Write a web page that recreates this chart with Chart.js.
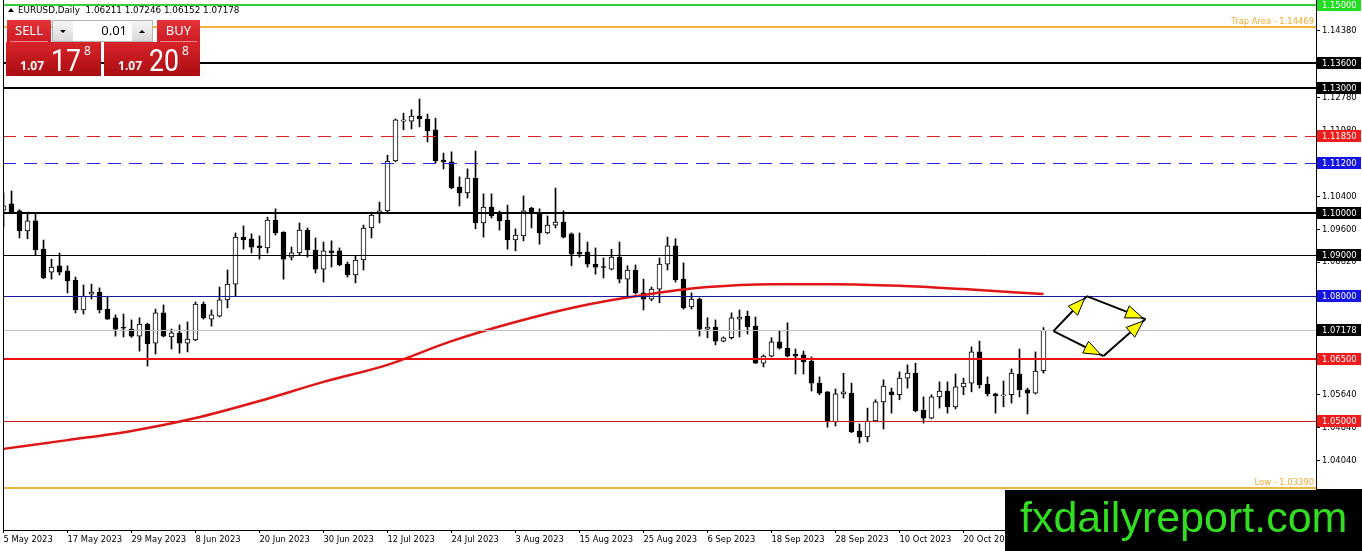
<!DOCTYPE html>
<html>
<head>
<meta charset="utf-8">
<title>EURUSD Daily</title>
<script src="https://cdn.jsdelivr.net/npm/chart.js@4.4.1/dist/chart.umd.min.js"></script>
<style>
  html, body { margin: 0; padding: 0; background: #ffffff; }
  #wrap { width: 1362px; height: 551px; }
  canvas { display: block; }
</style>
</head>
<body>
<div id="wrap"><canvas id="chart" width="1362" height="551"></canvas></div>
<script>
// bar index of each date label on the time axis (one label every 8 sessions)
const tickBars = [0, 8, 16, 24, 32, 40, 48, 56, 64, 72, 80, 88, 96, 104, 112, 120, 128];
const dateLabels = [
  "5 May 2023", "17 May 2023", "29 May 2023", "8 Jun 2023", "20 Jun 2023", "30 Jun 2023",
  "12 Jul 2023", "24 Jul 2023", "3 Aug 2023", "15 Aug 2023", "25 Aug 2023", "6 Sep 2023",
  "18 Sep 2023", "28 Sep 2023", "10 Oct 2023", "20 Oct 2023", "1 Nov 2023"
];

// daily candles, 5 May 2023 .. 3 Nov 2023
const opens = [
  1.1007, 1.1022, 1.1005, 1.0957, 1.0981, 1.0913, 1.0858, 1.0873, 1.0861, 1.0839,
  1.0767, 1.0805, 1.0810, 1.0769, 1.0748, 1.0724, 1.0721, 1.0704, 1.0733, 1.0687,
  1.0760, 1.0702, 1.0712, 1.0687, 1.0695, 1.0781, 1.0745, 1.0752, 1.0791, 1.0829,
  1.0942, 1.0938, 1.0921, 1.0916, 1.0983, 1.0954, 1.0894, 1.0904, 1.0959, 1.0911,
  1.0865, 1.0909, 1.0909, 1.0877, 1.0851, 1.0887, 1.0964, 1.1000, 1.1005, 1.1125,
  1.1221, 1.1221, 1.1233, 1.1226, 1.1200, 1.1127, 1.1123, 1.1062, 1.1048, 1.1084,
  1.0976, 1.1014, 1.1000, 1.0983, 1.0935, 1.0945, 1.1012, 1.1000, 1.0952, 1.0971,
  1.0978, 1.0950, 1.0906, 1.0906, 1.0877, 1.0870, 1.0865, 1.0894, 1.0841, 1.0863,
  1.0808, 1.0793, 1.0817, 1.0877, 1.0921, 1.0841, 1.0774, 1.0793, 1.0721, 1.0726,
  1.0692, 1.0700, 1.0745, 1.0752, 1.0728, 1.0639, 1.0656, 1.0690, 1.0675, 1.0661,
  1.0659, 1.0644, 1.0591, 1.0570, 1.0498, 1.0565, 1.0567, 1.0476, 1.0462, 1.0500,
  1.0546, 1.0570, 1.0563, 1.0603, 1.0615, 1.0526, 1.0507, 1.0558, 1.0572, 1.0534,
  1.0582, 1.0591, 1.0666, 1.0589, 1.0565, 1.0560, 1.0563, 1.0613, 1.0575, 1.0567,
  1.06211
];
const highs = [
  1.1048, 1.1053, 1.1008, 1.1002, 1.1000, 1.0935, 1.0889, 1.0904, 1.0873, 1.0846,
  1.0827, 1.0829, 1.0820, 1.0800, 1.0755, 1.0757, 1.0743, 1.0748, 1.0735, 1.0769,
  1.0779, 1.0721, 1.0731, 1.0738, 1.0786, 1.0786, 1.0767, 1.0822, 1.0863, 1.0952,
  1.0969, 1.0950, 1.0945, 1.0990, 1.1010, 1.0955, 1.0918, 1.0976, 1.0964, 1.0940,
  1.0930, 1.0933, 1.0916, 1.0882, 1.0897, 1.0971, 1.1002, 1.1026, 1.1139, 1.1226,
  1.1240, 1.1248, 1.1274, 1.1238, 1.1228, 1.1144, 1.1147, 1.1087, 1.1106, 1.1149,
  1.1046, 1.1046, 1.1005, 1.1019, 1.0962, 1.1041, 1.1014, 1.1010, 1.0993, 1.1060,
  1.1005, 1.0952, 1.0952, 1.0930, 1.0916, 1.0892, 1.0913, 1.0930, 1.0873, 1.0875,
  1.0841, 1.0822, 1.0892, 1.0942, 1.0938, 1.0880, 1.0808, 1.0796, 1.0748, 1.0743,
  1.0702, 1.0760, 1.0767, 1.0764, 1.0750, 1.0659, 1.0700, 1.0716, 1.0736, 1.0673,
  1.0668, 1.0654, 1.0606, 1.0571, 1.0577, 1.0615, 1.0591, 1.0493, 1.0531, 1.0551,
  1.0599, 1.0579, 1.0618, 1.0635, 1.0639, 1.0558, 1.0563, 1.0594, 1.0594, 1.0613,
  1.0603, 1.0678, 1.0692, 1.0606, 1.0567, 1.0596, 1.0625, 1.0673, 1.0579, 1.0666,
  1.07246
];
const lows = [
  1.0966, 1.0998, 1.0940, 1.0938, 1.0899, 1.0842, 1.0841, 1.0851, 1.0808, 1.0760,
  1.0757, 1.0793, 1.0760, 1.0744, 1.0704, 1.0702, 1.0701, 1.0668, 1.0632, 1.0661,
  1.0702, 1.0673, 1.0663, 1.0666, 1.0693, 1.0745, 1.0728, 1.0750, 1.0772, 1.0800,
  1.0913, 1.0904, 1.0889, 1.0904, 1.0947, 1.0841, 1.0887, 1.0899, 1.0894, 1.0856,
  1.0834, 1.0870, 1.0873, 1.0846, 1.0832, 1.0863, 1.0940, 1.0976, 1.1000, 1.1123,
  1.1200, 1.1202, 1.1207, 1.1171, 1.1120, 1.1106, 1.1058, 1.1017, 1.1036, 1.0962,
  1.0942, 1.0988, 1.0959, 1.0913, 1.0909, 1.0933, 1.0964, 1.0925, 1.0950, 1.0964,
  1.0940, 1.0873, 1.0894, 1.0870, 1.0853, 1.0844, 1.0863, 1.0832, 1.0798, 1.0805,
  1.0767, 1.0789, 1.0784, 1.0863, 1.0834, 1.0769, 1.0769, 1.0704, 1.0700, 1.0683,
  1.0690, 1.0697, 1.0702, 1.0709, 1.0638, 1.0630, 1.0654, 1.0673, 1.0654, 1.0613,
  1.0613, 1.0572, 1.0563, 1.0485, 1.0488, 1.0555, 1.0472, 1.0447, 1.0450, 1.0498,
  1.0481, 1.0519, 1.0551, 1.0579, 1.0522, 1.0495, 1.0505, 1.0531, 1.0519, 1.0529,
  1.0563, 1.0570, 1.0579, 1.0560, 1.0519, 1.0534, 1.0543, 1.0558, 1.0517, 1.0565,
  1.06152
];
const closes = [
  1.1017, 1.1000, 1.0957, 1.0981, 1.0911, 1.0844, 1.0870, 1.0858, 1.0837, 1.0767,
  1.0800, 1.0810, 1.0767, 1.0745, 1.0721, 1.0723, 1.0704, 1.0733, 1.0685, 1.0760,
  1.0704, 1.0712, 1.0687, 1.0697, 1.0781, 1.0748, 1.0755, 1.0791, 1.0829, 1.0942,
  1.0935, 1.0918, 1.0916, 1.0983, 1.0952, 1.0889, 1.0904, 1.0959, 1.0911, 1.0865,
  1.0909, 1.0904, 1.0875, 1.0851, 1.0887, 1.0964, 1.0995, 1.1005, 1.1125, 1.1224,
  1.1224, 1.1233, 1.1226, 1.1197, 1.1125, 1.1123, 1.1060, 1.1048, 1.1084, 1.0976,
  1.1014, 1.0993, 1.0981, 1.0935, 1.0947, 1.1005, 1.1000, 1.0952, 1.0971, 1.0978,
  1.0942, 1.0901, 1.0901, 1.0877, 1.0870, 1.0869, 1.0894, 1.0841, 1.0863, 1.0808,
  1.0793, 1.0817, 1.0877, 1.0921, 1.0839, 1.0772, 1.0793, 1.0721, 1.0726, 1.0692,
  1.0700, 1.0748, 1.0750, 1.0726, 1.0639, 1.0656, 1.0690, 1.0675, 1.0656, 1.0656,
  1.0642, 1.0591, 1.0567, 1.0498, 1.0565, 1.0570, 1.0474, 1.0462, 1.0500, 1.0546,
  1.0584, 1.0563, 1.0603, 1.0615, 1.0524, 1.0507, 1.0558, 1.0572, 1.0534, 1.0582,
  1.0591, 1.0666, 1.0587, 1.0565, 1.0560, 1.0563, 1.0615, 1.0575, 1.0567, 1.0620,
  1.07178
];

// moving average
const maBars = [0, 8, 16, 24, 32, 40, 48, 56, 64, 72, 80, 88, 96, 104, 112, 120, 130];
const maValues = [
  1.0433, 1.0454, 1.0476, 1.0507, 1.0548, 1.0594, 1.0635, 1.0692, 1.0738,
  1.0776, 1.0803, 1.0822, 1.0829, 1.0829, 1.0825, 1.0817, 1.0805
];

const yTickValues = [
  1.1438, 1.1358, 1.1278, 1.1198, 1.1118, 1.1040, 1.0960, 1.0882,
  1.0802, 1.0722, 1.0642, 1.0564, 1.0484, 1.0404, 1.0324
];

// horizontal levels drawn on the chart
const levelPrices = [1.15, 1.14469, 1.136, 1.13, 1.1185, 1.112, 1.10, 1.09, 1.08, 1.07178, 1.065, 1.05, 1.0339];
const levelNames = ["", "Trap Area - 1.14469", "", "", "", "", "", "", "", "", "", "", "Low - 1.03390"];

// arrow sketch to the right of the last candle: [bar, price]
const arrowPoints = [[131.25, 1.0716], [135.4, 1.0800], [142.75, 1.0745], [137.5, 1.0656]];
const arrowLinks = [[0, 1], [1, 2], [0, 3], [3, 2]];

const headerText = "EURUSD,Daily  1.06211 1.07246 1.06152 1.07178";
const lotSize = "0.01";
const bidParts = ["1.07", "17", "8"];
const askParts = ["1.07", "20", "8"];
const logoText = "fxdailyreport.com";

// ---- styles (kept apart from the values above) ----
const levelStyles = [
  { color: "#38cc38", width: 2, box: "#22dd22" },
  { color: "#f0b43c", width: 2, text: "#f0ac30" },
  { color: "#000000", width: 2, box: "#000000" },
  { color: "#000000", width: 2, box: "#000000" },
  { color: "#dd2020", width: 1, dash: [13, 8], box: "#ee1c1c" },
  { color: "#2626f0", width: 1, dash: [13, 8], box: "#1414e6" },
  { color: "#000000", width: 2, box: "#000000" },
  { color: "#000000", width: 1, box: "#000000" },
  { color: "#1a1aa0", width: 1, box: "#1414e6" },
  { color: "#c0c0c0", width: 1, box: "#000000" },
  { color: "#ee1111", width: 2, box: "#ee1c1c" },
  { color: "#c81e1e", width: 1, box: "#ee1c1c" },
  { color: "#f0b43c", width: 2, text: "#f0ac30" }
];

const AXIS_FONT = "DejaVu Sans";
const AXIS_SIZE = 8.4;
const PX_PER_UNIT = 4160;
const PLOT_TOP_PRICE = 1.1512;
const PLOT_HEIGHT = 530;
const BAR_SPACING = 8;
const PLOT_LEFT = 3;
const PLOT_RIGHT = 1316;

const xMin = -0.5 / BAR_SPACING;
const xMax = xMin + (PLOT_RIGHT - PLOT_LEFT) / BAR_SPACING;
const yMax = PLOT_TOP_PRICE;
const yMin = PLOT_TOP_PRICE - PLOT_HEIGHT / PX_PER_UNIT;

const bodies = opens.map((open, i) => ({ x: i, y: [open, closes[i]] }));
const wicks = lows.map((low, i) => ({ x: i, y: [low, highs[i]] }));
const bodyColors = opens.map((open, i) => (closes[i] > open ? "#ffffff" : "#000000"));
const maPoints = maBars.map((bar, i) => ({ x: bar, y: maValues[i] }));

function drawArrow(ctx, x1, y1, x2, y2) {
  const angle = Math.atan2(y2 - y1, x2 - x1);
  const tipX = x2 - 3 * Math.cos(angle);
  const tipY = y2 - 3 * Math.sin(angle);
  ctx.strokeStyle = "#000000";
  ctx.lineWidth = 2;
  ctx.beginPath();
  ctx.moveTo(x1, y1);
  ctx.lineTo(x2, y2);
  ctx.stroke();

  const baseX = tipX - 17 * Math.cos(angle);
  const baseY = tipY - 17 * Math.sin(angle);
  const half = 6.5;
  ctx.beginPath();
  ctx.moveTo(tipX, tipY);
  ctx.lineTo(baseX + half * Math.sin(angle), baseY - half * Math.cos(angle));
  ctx.lineTo(baseX - half * Math.sin(angle), baseY + half * Math.cos(angle));
  ctx.closePath();
  ctx.fillStyle = "#ffff00";
  ctx.fill();
  ctx.lineWidth = 1;
  ctx.stroke();
}

function verticalGradient(ctx, y, h, top, bottom) {
  const gradient = ctx.createLinearGradient(0, y, 0, y + h);
  gradient.addColorStop(0, top);
  gradient.addColorStop(1, bottom);
  return gradient;
}

function drawRedButton(ctx, x, y, w, h, label) {
  ctx.fillStyle = verticalGradient(ctx, y, h, "#e4343a", "#cc1b22");
  ctx.fillRect(x, y, w, h);
  ctx.fillStyle = "#f08a8d";
  ctx.fillRect(x + 3, y + h - 1, w - 6, 1);
  ctx.fillStyle = "#ffffff";
  ctx.font = "13px 'Noto Sans'";
  ctx.textAlign = "center";
  ctx.textBaseline = "middle";
  ctx.fillText(label, x + w / 2, y + h / 2);
}

function drawGreyButton(ctx, x, y, w, h, up) {
  ctx.fillStyle = verticalGradient(ctx, y, h, "#f6f6f6", "#d9d9d9");
  ctx.fillRect(x, y, w, h);
  ctx.fillStyle = "#000000";
  const cx = x + w / 2;
  const cy = y + h / 2;
  ctx.beginPath();
  if (up) {
    ctx.moveTo(cx - 3, cy + 2);
    ctx.lineTo(cx + 3, cy + 2);
    ctx.lineTo(cx, cy - 1);
  } else {
    ctx.moveTo(cx - 3, cy - 1);
    ctx.lineTo(cx + 3, cy - 1);
    ctx.lineTo(cx, cy + 2);
  }
  ctx.closePath();
  ctx.fill();
}

function drawPriceBox(ctx, x, y, w, h, parts) {
  ctx.fillStyle = verticalGradient(ctx, y, h, "#d8242a", "#a90d12");
  ctx.fillRect(x, y, w, h);
  ctx.fillStyle = "#ffffff";
  ctx.textBaseline = "alphabetic";
  ctx.textAlign = "right";
  ctx.font = "bold 12px 'Noto Sans'";
  ctx.fillText(parts[0], x + 38, y + 28);

  ctx.save();
  ctx.translate(x + 75, y + 29);
  ctx.scale(0.86, 1);
  ctx.font = "31px Roboto";
  ctx.fillText(parts[1], 0, 0);
  ctx.restore();

  ctx.textAlign = "left";
  ctx.font = "12px 'Noto Sans'";
  ctx.fillText(parts[2], x + 78, y + 13);
}

function drawTradePanel(ctx) {
  ctx.save();
  drawRedButton(ctx, 7, 20, 44, 22, "SELL");
  drawRedButton(ctx, 157, 20, 43, 22, "BUY");

  ctx.fillStyle = "#ffffff";
  ctx.fillRect(52, 20, 101, 22);
  ctx.strokeStyle = "#b4b4b4";
  ctx.lineWidth = 1;
  ctx.strokeRect(52.5, 20.5, 100, 21);
  drawGreyButton(ctx, 53, 21, 20, 20, false);
  drawGreyButton(ctx, 132, 21, 20, 20, true);
  ctx.fillStyle = "#000000";
  ctx.font = "13px 'Noto Sans'";
  ctx.textAlign = "right";
  ctx.textBaseline = "middle";
  ctx.fillText(lotSize, 127, 31);

  drawPriceBox(ctx, 6, 42, 95, 34, bidParts);
  drawPriceBox(ctx, 104, 42, 96, 34, askParts);
  ctx.restore();
}

const overlayPlugin = {
  id: "overlayPlugin",
  afterDatasetsDraw(chart) {
    const { ctx, chartArea, scales } = chart;
    ctx.save();
    ctx.beginPath();
    ctx.rect(chartArea.left, chartArea.top, chartArea.right - chartArea.left, chartArea.bottom - chartArea.top);
    ctx.clip();

    levelPrices.forEach((price, index) => {
      const style = levelStyles[index];
      let y = Math.round(scales.y.getPixelForValue(price));
      if (style.width % 2 === 1) y += 0.5;
      ctx.strokeStyle = style.color;
      ctx.lineWidth = style.width;
      ctx.setLineDash(style.dash || []);
      ctx.beginPath();
      ctx.moveTo(chartArea.left, y);
      ctx.lineTo(chartArea.right, y);
      ctx.stroke();

      if (levelNames[index]) {
        ctx.fillStyle = style.text;
        ctx.font = `${AXIS_SIZE}px ${AXIS_FONT}`;
        ctx.textAlign = "right";
        ctx.textBaseline = "bottom";
        ctx.fillText(levelNames[index], chartArea.right - 2, y - 1);
      }
    });
    ctx.setLineDash([]);

    const pts = arrowPoints.map(([bar, price]) => [scales.x.getPixelForValue(bar), scales.y.getPixelForValue(price)]);
    arrowLinks.forEach(([from, to]) => {
      drawArrow(ctx, pts[from][0], pts[from][1], pts[to][0], pts[to][1]);
    });
    ctx.restore();
  },
  afterDraw(chart) {
    const { ctx, chartArea, scales } = chart;
    ctx.save();

    // price labels of the levels on the right axis
    ctx.font = `${AXIS_SIZE}px ${AXIS_FONT}`;
    ctx.textAlign = "left";
    ctx.textBaseline = "middle";
    levelPrices.forEach((price, index) => {
      const style = levelStyles[index];
      if (!style.box) return;
      const y = Math.round(scales.y.getPixelForValue(price));
      ctx.fillStyle = style.box;
      ctx.fillRect(chartArea.right + 1, y - 6, 44, 12);
      ctx.fillStyle = "#ffffff";
      ctx.fillText(price.toFixed(5), chartArea.right + 6, y + 0.5);
    });

    // left frame
    ctx.fillStyle = "#000000";
    ctx.fillRect(chartArea.left, chartArea.top, 1, chartArea.bottom - chartArea.top);

    // symbol header
    ctx.beginPath();
    ctx.moveTo(8, 12);
    ctx.lineTo(14, 12);
    ctx.lineTo(11, 8);
    ctx.closePath();
    ctx.fill();
    ctx.font = `8.8px ${AXIS_FONT}`;
    ctx.fillText(headerText, 18, 11);

    drawTradePanel(ctx);

    // watermark
    ctx.fillStyle = "#000000";
    ctx.fillRect(1005, 490, 357, 61);
    ctx.fillRect(chartArea.right, 489, 1362 - chartArea.right, 2);
    ctx.fillStyle = "#33dd22";
    ctx.font = "43px 'Liberation Sans'";
    ctx.textAlign = "left";
    ctx.textBaseline = "alphabetic";
    ctx.fillText(logoText, 1020, 532);
    ctx.restore();
  }
};

new Chart(document.getElementById("chart"), {
  type: "bar",
  data: {
    datasets: [
      {
        type: "line",
        label: "MA",
        data: maPoints,
        borderColor: "#e01515",
        borderWidth: 2.5,
        pointRadius: 0,
        tension: 0.35,
        cubicInterpolationMode: "monotone",
        order: 1
      },
      {
        label: "bodies",
        data: bodies,
        backgroundColor: bodyColors,
        borderColor: "#000000",
        borderWidth: 1,
        borderSkipped: false,
        barThickness: 5,
        minBarLength: 1,
        grouped: false,
        order: 2
      },
      {
        label: "wicks",
        data: wicks,
        backgroundColor: "#000000",
        borderWidth: 0,
        barThickness: 1,
        grouped: false,
        order: 3
      }
    ]
  },
  options: {
    responsive: false,
    animation: false,
    devicePixelRatio: 1,
    events: [],
    layout: { padding: { left: PLOT_LEFT, top: 0, right: 0, bottom: 0 } },
    plugins: {
      legend: { display: false },
      tooltip: { enabled: false }
    },
    scales: {
      x: {
        type: "linear",
        position: "bottom",
        min: xMin,
        max: xMax,
        offset: false,
        grid: { display: true, offset: false, drawOnChartArea: false, drawTicks: true, tickLength: 3, color: "#000000" },
        border: { display: true, color: "#000000", width: 1 },
        ticks: {
          autoSkip: false,
          maxRotation: 0,
          align: "start",
          padding: 2,
          color: "#000000",
          font: { family: AXIS_FONT, size: AXIS_SIZE },
          callback: (value) => {
            const index = tickBars.indexOf(value);
            return index >= 0 ? dateLabels[index] : "";
          }
        },
        afterBuildTicks: (scale) => {
          scale.ticks = tickBars.map((value) => ({ value }));
        },
        afterFit: (scale) => {
          scale.height = 21;
          scale.paddingLeft = 0;
          scale.paddingRight = 0;
        }
      },
      y: {
        position: "right",
        min: yMin,
        max: yMax,
        grid: { display: true, drawOnChartArea: false, drawTicks: true, tickLength: 4, color: "#000000" },
        border: { display: true, color: "#000000", width: 1 },
        ticks: {
          padding: 2,
          color: "#000000",
          font: { family: AXIS_FONT, size: AXIS_SIZE },
          callback: (value) => Number(value).toFixed(5)
        },
        afterBuildTicks: (scale) => {
          scale.ticks = yTickValues.map((value) => ({ value }));
        },
        afterFit: (scale) => {
          scale.width = 46;
          scale.paddingTop = 0;
          scale.paddingBottom = 0;
        }
      }
    }
  },
  plugins: [overlayPlugin]
});
</script>
</body>
</html>
